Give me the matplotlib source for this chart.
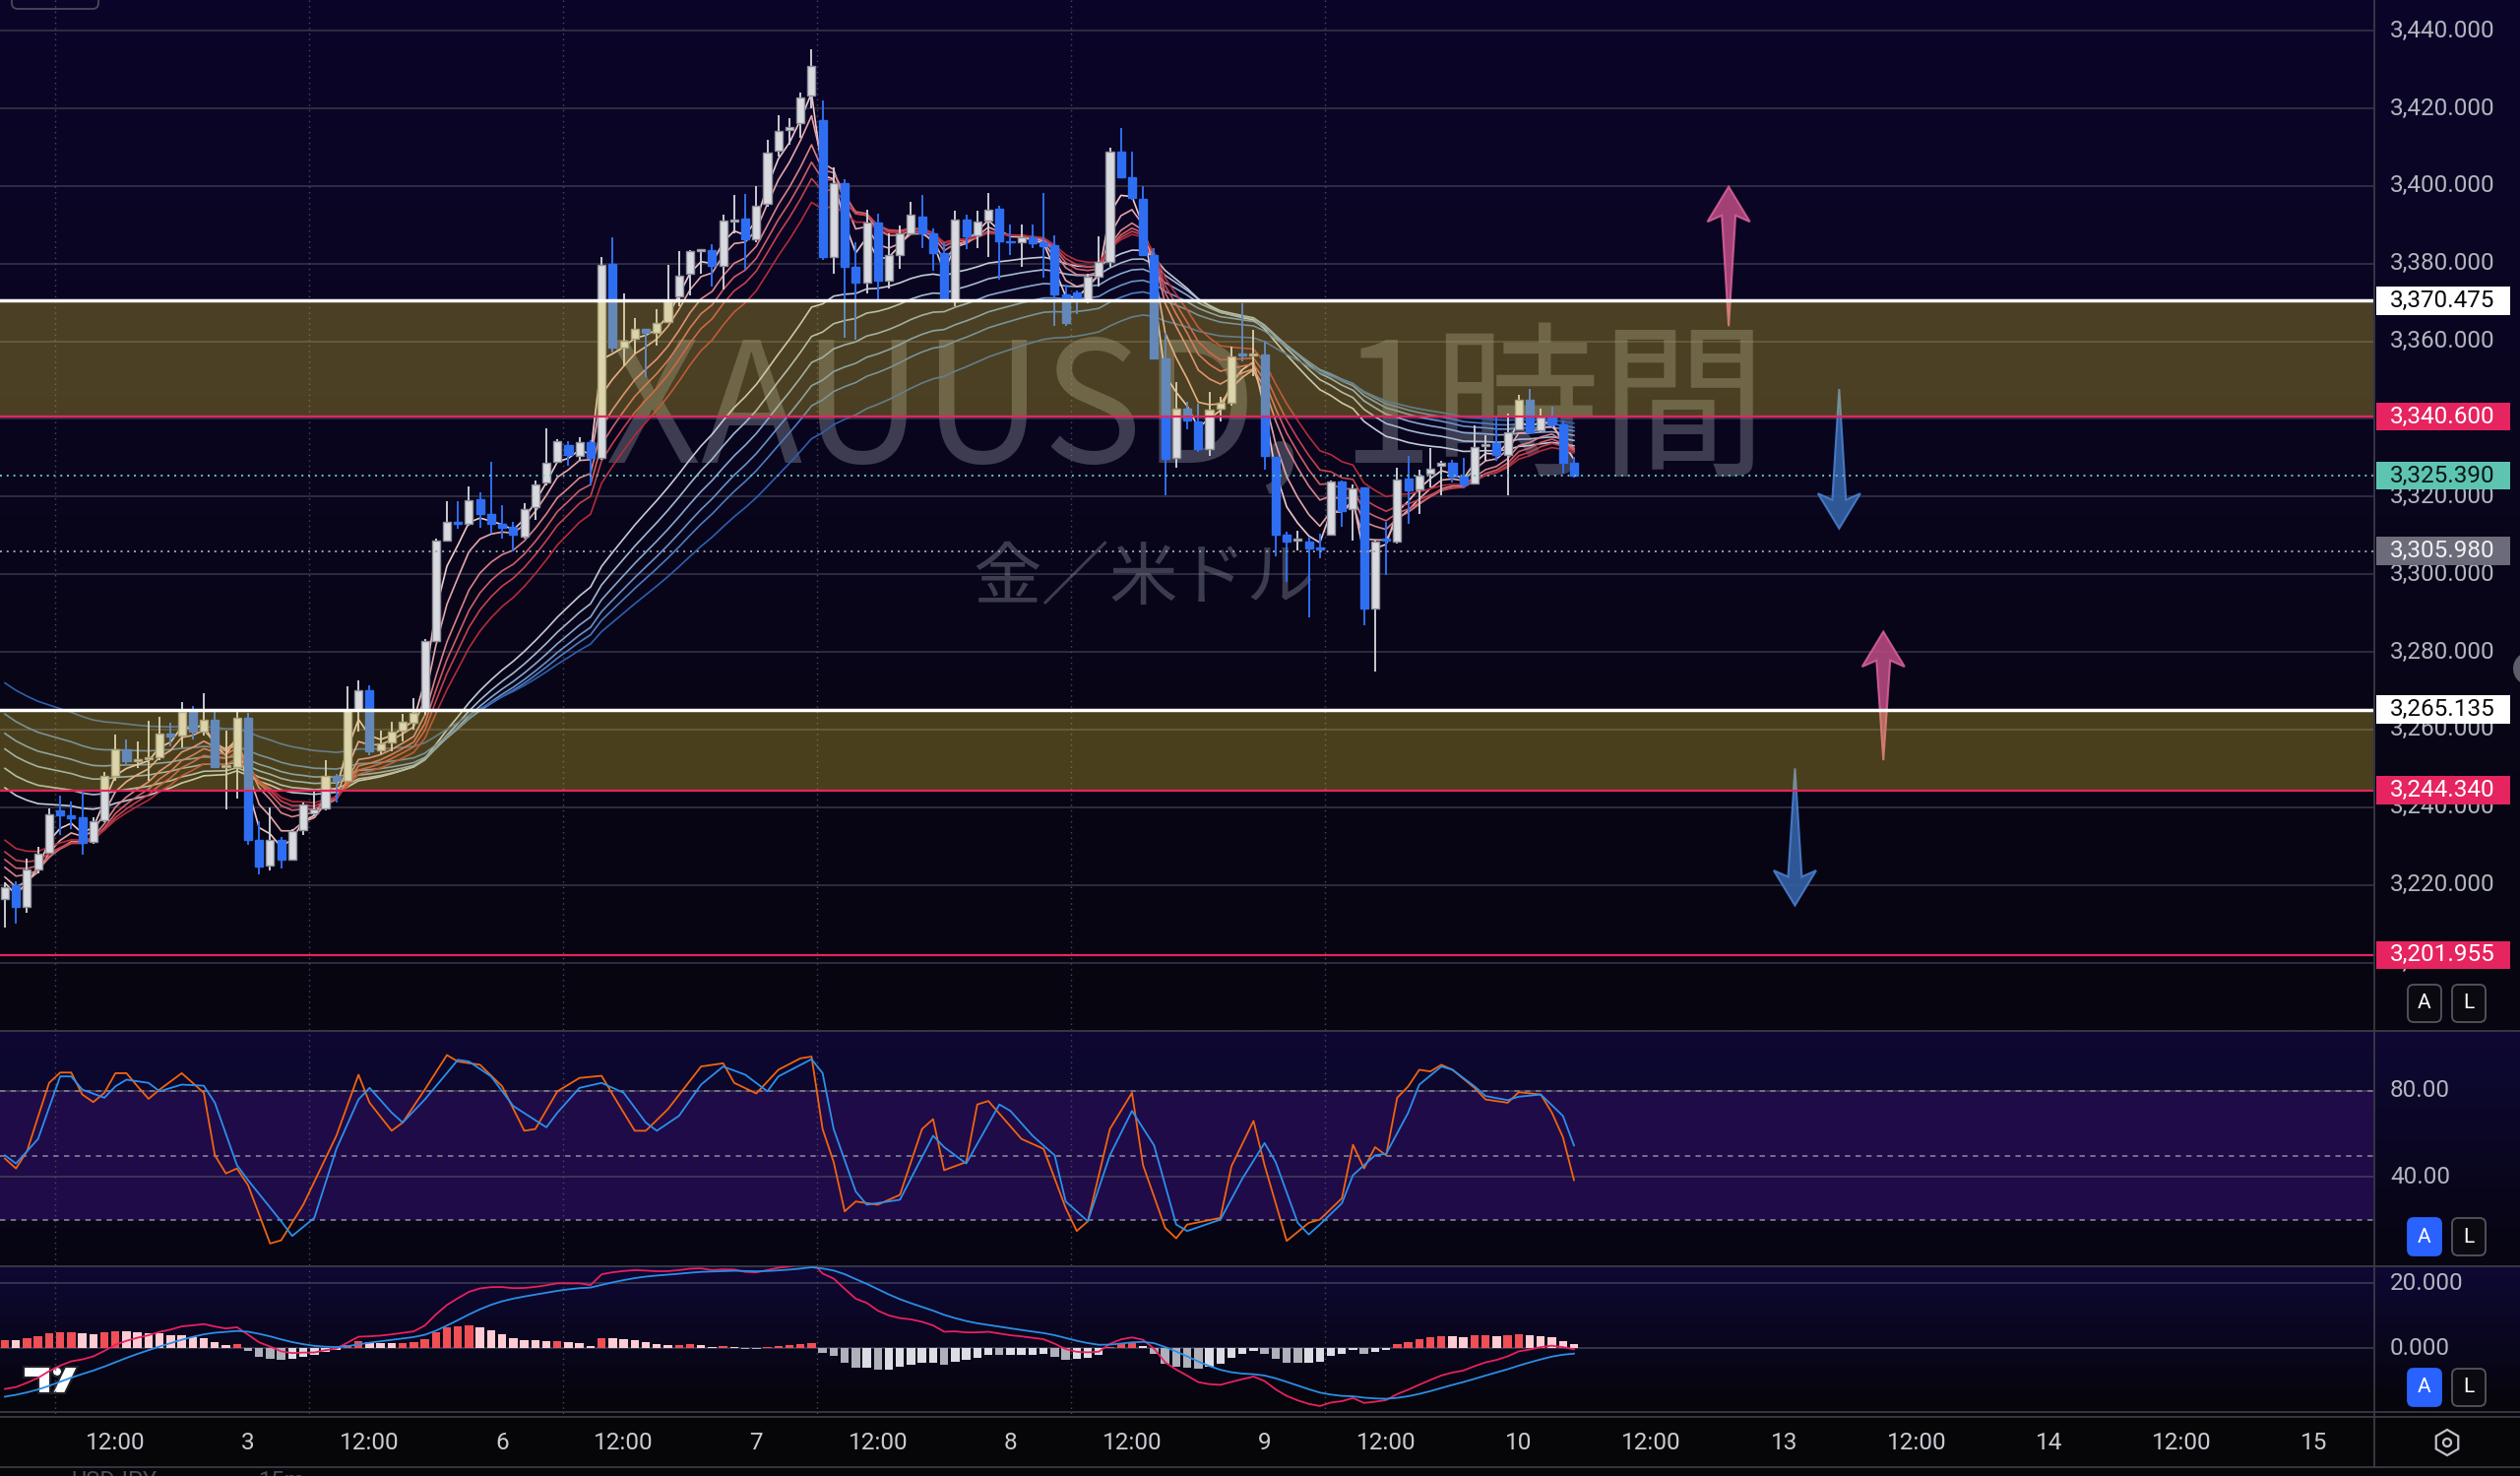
import numpy as np
import matplotlib
matplotlib.use("Agg")
import matplotlib.pyplot as plt
import matplotlib.transforms as mtransforms
from matplotlib.colors import to_rgb
from matplotlib.patches import Rectangle, FancyBboxPatch, Polygon, RegularPolygon, Circle

plt.rcParams["font.family"] = ["Roboto", "Noto Sans CJK JP", "DejaVu Sans"]

W, H = 2560, 1499

# ---------------- data: XAUUSD 1h candles ----------------
OPEN = [3216.3, 3219.8, 3214.4, 3223.9, 3228.3, 3239.3, 3237.8, 3237.4, 3231.1, 3236.6,
        3248.0, 3254.9, 3251.8, 3252.4, 3253.0, 3258.9, 3258.4, 3264.9, 3259.6, 3262.6,
        3250.4, 3250.4, 3262.9, 3231.7, 3224.9, 3231.5, 3226.4, 3234.0, 3238.4, 3239.8,
        3248.0, 3246.7, 3265.0, 3270.2, 3254.7, 3256.7, 3259.8, 3261.8, 3265.2, 3282.8,
        3308.8, 3313.3, 3313.1, 3319.4, 3315.6, 3312.9, 3312.1, 3309.7, 3317.3, 3323.6,
        3329.0, 3333.3, 3330.5, 3334.1, 3329.9, 3380.0, 3358.5, 3360.6, 3363.1, 3362.3,
        3364.9, 3371.5, 3377.5, 3383.3, 3383.5, 3379.5, 3390.9, 3391.7, 3386.3, 3395.5,
        3409.0, 3414.4, 3416.1, 3423.3, 3416.9, 3381.8, 3400.8, 3379.3, 3375.0, 3390.7,
        3375.6, 3382.2, 3387.9, 3392.2, 3387.9, 3382.7, 3370.2, 3391.3, 3387.2, 3391.0,
        3394.2, 3385.9, 3385.4, 3386.8, 3385.4, 3384.7, 3372.0, 3372.7, 3370.2, 3376.6,
        3380.4, 3408.8, 3402.2, 3396.7, 3382.2, 3355.5, 3330.0, 3342.7, 3339.4, 3332.2,
        3342.7, 3344.3, 3356.6, 3356.3, 3356.6, 3330.2, 3310.1, 3308.7, 3308.3, 3306.7,
        3310.1, 3323.8, 3316.7, 3322.4, 3291.1, 3309.0, 3308.3, 3324.7, 3321.8, 3325.8,
        3327.9, 3328.6, 3325.2, 3323.5, 3333.1, 3333.8, 3330.8, 3337.3, 3344.9, 3337.0,
        3340.4, 3338.7, 3328.7]
HIGH = [3220.5, 3220.9, 3226.8, 3229.8, 3239.7, 3243.1, 3241.4, 3244.1, 3237.4, 3249.2,
        3258.7, 3257.5, 3257.0, 3262.3, 3263.2, 3261.8, 3267.2, 3266.0, 3269.4, 3264.6,
        3259.8, 3264.6, 3264.3, 3236.4, 3239.9, 3232.3, 3234.4, 3241.2, 3244.1, 3252.2,
        3248.6, 3271.2, 3272.7, 3271.4, 3259.8, 3261.9, 3264.1, 3268.1, 3283.2, 3309.3,
        3318.9, 3318.9, 3322.7, 3321.1, 3329.0, 3317.9, 3313.5, 3318.2, 3324.2, 3337.5,
        3334.9, 3334.3, 3335.3, 3334.6, 3381.6, 3386.7, 3372.4, 3366.1, 3363.3, 3368.4,
        3379.7, 3383.3, 3383.5, 3383.8, 3385.0, 3392.6, 3397.6, 3398.0, 3399.9, 3411.9,
        3418.2, 3417.6, 3424.1, 3435.3, 3422.1, 3404.9, 3401.7, 3385.4, 3394.0, 3392.8,
        3387.7, 3389.9, 3395.8, 3397.6, 3389.0, 3385.4, 3393.6, 3392.7, 3393.7, 3398.3,
        3394.9, 3390.0, 3390.1, 3390.1, 3398.1, 3387.2, 3374.6, 3373.2, 3377.3, 3387.0,
        3409.9, 3414.9, 3408.8, 3399.9, 3384.1, 3362.1, 3349.4, 3344.5, 3343.9, 3346.9,
        3345.6, 3358.7, 3369.7, 3362.9, 3360.2, 3330.2, 3311.0, 3311.1, 3309.7, 3310.5,
        3324.1, 3324.1, 3323.2, 3322.4, 3308.8, 3313.5, 3327.4, 3330.4, 3327.0, 3332.5,
        3329.1, 3329.4, 3330.0, 3338.4, 3335.9, 3340.4, 3341.4, 3346.3, 3347.7, 3342.7,
        3343.1, 3339.7, 3330.2]
LOW = [3209.1, 3209.9, 3212.9, 3223.0, 3228.1, 3232.8, 3234.4, 3227.7, 3230.6, 3236.2,
       3246.7, 3250.9, 3250.1, 3246.7, 3252.2, 3255.6, 3255.3, 3257.5, 3258.4, 3250.1,
       3239.4, 3242.3, 3230.2, 3222.8, 3223.7, 3224.3, 3226.3, 3232.8, 3237.8, 3239.1,
       3241.2, 3246.5, 3259.5, 3253.3, 3253.6, 3254.3, 3256.9, 3259.9, 3263.7, 3282.6,
       3308.6, 3311.6, 3312.6, 3311.9, 3310.4, 3309.1, 3305.9, 3309.3, 3314.1, 3323.0,
       3328.6, 3328.0, 3329.3, 3323.0, 3329.5, 3357.0, 3353.5, 3356.8, 3350.7, 3358.9,
       3364.6, 3369.0, 3371.9, 3377.5, 3374.0, 3373.4, 3387.9, 3378.5, 3385.4, 3394.6,
       3407.7, 3410.6, 3412.5, 3420.1, 3380.9, 3377.3, 3361.0, 3360.5, 3372.3, 3370.9,
       3373.6, 3378.6, 3387.7, 3384.1, 3378.2, 3370.0, 3369.1, 3383.8, 3384.1, 3381.8,
       3375.9, 3382.2, 3379.1, 3384.1, 3376.4, 3363.9, 3363.9, 3367.1, 3369.9, 3374.1,
       3379.3, 3402.2, 3396.3, 3382.0, 3355.5, 3320.4, 3327.5, 3337.4, 3331.5, 3330.6,
       3339.3, 3343.5, 3354.9, 3351.1, 3327.0, 3304.6, 3297.9, 3306.1, 3288.8, 3304.2,
       3309.9, 3312.2, 3308.8, 3286.9, 3275.0, 3299.8, 3308.0, 3313.1, 3315.4, 3322.4,
       3320.3, 3323.6, 3322.1, 3323.2, 3329.1, 3329.1, 3320.4, 3337.2, 3336.5, 3336.5,
       3337.8, 3325.8, 3324.9]
CLOSE = [3219.5, 3214.4, 3223.9, 3228.1, 3238.2, 3237.8, 3237.2, 3230.8, 3236.4, 3248.0,
         3254.9, 3251.8, 3252.0, 3252.9, 3258.9, 3258.1, 3264.6, 3259.6, 3262.6, 3250.4,
         3250.8, 3262.9, 3231.5, 3224.7, 3231.5, 3226.4, 3233.9, 3240.8, 3239.5, 3248.0,
         3246.9, 3265.1, 3270.2, 3254.3, 3256.4, 3259.6, 3262.1, 3264.3, 3282.8, 3308.8,
         3313.5, 3313.0, 3319.2, 3315.6, 3312.9, 3311.9, 3310.1, 3316.9, 3323.2, 3328.6,
         3334.3, 3330.8, 3334.1, 3329.9, 3379.7, 3358.3, 3360.2, 3363.1, 3362.3, 3364.6,
         3370.3, 3377.0, 3383.3, 3383.5, 3379.5, 3391.1, 3391.3, 3386.3, 3394.9, 3408.7,
         3414.1, 3415.3, 3422.9, 3430.8, 3381.6, 3400.8, 3379.3, 3375.0, 3390.7, 3375.6,
         3382.2, 3387.7, 3392.5, 3387.9, 3382.7, 3370.2, 3391.3, 3387.0, 3390.9, 3394.0,
         3385.9, 3385.4, 3386.8, 3385.2, 3384.5, 3372.0, 3364.6, 3370.9, 3376.6, 3380.4,
         3408.8, 3402.2, 3397.0, 3382.2, 3355.5, 3329.7, 3342.7, 3339.7, 3332.2, 3342.4,
         3344.3, 3356.2, 3356.3, 3356.6, 3330.4, 3310.3, 3308.3, 3309.0, 3306.6, 3306.4,
         3323.8, 3316.2, 3322.1, 3291.1, 3308.3, 3308.7, 3324.5, 3321.5, 3325.3, 3327.2,
         3328.7, 3325.2, 3323.2, 3332.8, 3333.6, 3330.8, 3336.7, 3344.9, 3336.7, 3340.4,
         3338.7, 3328.7, 3325.4]

# GMMA periods and their values at the first visible candle
GMMA_SHORT = [3, 5, 8, 10, 12, 15]
GMMA_SHORT_START = [3220.5, 3222.0, 3224.5, 3226.5, 3228.5, 3231.5]
GMMA_LONG = [30, 35, 40, 45, 50, 60]
GMMA_LONG_START = [3245.0, 3250.0, 3255.0, 3259.0, 3264.0, 3272.0]
SHORT_COLORS = ["#f0c8c8", "#e6a6a8", "#da8288", "#cf5f66", "#c4424c", "#b32c38"]
LONG_COLORS = ["#c3cad6", "#a5b9d2", "#88a7cf", "#6a93c9", "#4d7cc0", "#2f5fae"]

# MACD (12, 26, 9) state at the first visible candle
MACD_FAST_START = 3219.0
MACD_SLOW_START = 3231.5
MACD_SIGNAL_START = -14.9

# Stochastic %K / %D (candle index, value)
STOCH_K_AT = [0, 1, 2, 3, 4, 5, 6, 7, 8, 9, 10, 11, 12, 13, 14, 16, 18, 19, 20, 21, 22, 24, 25, 27,
              30, 32, 33, 35, 36, 38, 40, 41, 43, 45, 47, 48, 50, 52, 54, 55, 57, 58, 60, 63, 65,
              66, 68, 70, 72, 73, 74, 75, 76, 77, 79, 81, 83, 84, 85, 87, 88, 89, 92, 94, 96, 97,
              98, 100, 102, 103, 105, 106, 107, 110, 111, 113, 114, 116, 118, 119, 121, 122, 123,
              124, 125, 126, 127, 128, 129, 130, 131, 133, 134, 136, 137, 139, 140, 141, 142]
STOCH_K = [48.6, 44.0, 52.0, 68.0, 83.7, 88.5, 88.5, 78.3, 74.8, 79.1, 88.2, 88.2, 82.1, 76.3, 80.6,
           88.2, 79.1, 50.1, 41.7, 44.0, 36.3, 9.2, 10.7, 27.2, 59.2, 87.5, 74.5, 61.5, 65.3, 80.6,
           96.6, 93.6, 92.1, 82.1, 61.5, 62.3, 79.8, 86.0, 87.0, 78.3, 61.5, 61.5, 71.5, 91.3, 92.8,
           83.7, 78.8, 89.8, 95.1, 95.9, 62.3, 47.0, 24.1, 28.7, 27.2, 31.8, 62.3, 66.9, 43.2, 47.0,
           73.7, 75.3, 57.7, 53.1, 25.7, 15.0, 19.5, 62.3, 79.1, 45.5, 16.5, 11.6, 18.0, 21.1, 45.0,
           66.1, 45.5, 10.4, 18.8, 20.3, 30.2, 55.0, 44.0, 53.9, 50.1, 76.8, 82.1, 89.8, 89.0, 92.1,
           89.8, 81.4, 76.0, 74.5, 79.4, 78.3, 69.9, 58.5, 38.6]
STOCH_D_AT = [0, 1, 3, 5, 6, 7, 9, 10, 11, 13, 14, 16, 18, 19, 21, 22, 25, 26, 28, 30, 32, 33, 35,
              36, 38, 41, 42, 44, 46, 49, 50, 52, 54, 56, 58, 59, 61, 63, 65, 67, 69, 70, 73, 74,
              75, 77, 78, 81, 84, 85, 87, 90, 91, 93, 95, 96, 98, 100, 102, 104, 106, 107, 110, 112,
              114, 115, 117, 118, 119, 121, 122, 124, 125, 127, 128, 130, 131, 133, 134, 136, 137,
              139, 141, 142]
STOCH_D = [50.1, 46.3, 57.7, 86.7, 86.7, 80.6, 76.8, 82.1, 85.2, 83.7, 79.8, 82.9, 82.4, 74.5, 45.5,
           38.6, 19.5, 12.7, 21.1, 53.1, 76.0, 81.4, 69.9, 65.3, 76.0, 94.4, 93.6, 86.7, 73.0, 63.1,
           69.9, 81.4, 83.7, 79.1, 65.3, 61.5, 68.4, 82.9, 91.3, 87.5, 79.8, 86.7, 94.7, 88.2, 62.3,
           33.3, 27.2, 29.5, 59.2, 53.9, 46.3, 73.7, 70.7, 59.2, 50.1, 28.7, 19.5, 50.1, 70.7, 54.7,
           18.0, 15.0, 20.3, 39.4, 55.8, 47.0, 18.8, 13.4, 18.0, 27.9, 40.9, 50.1, 50.8, 69.9, 82.9,
           91.3, 89.8, 82.1, 77.6, 75.7, 77.3, 78.3, 68.4, 54.7]

# horizontal levels
ZONES = [(3340.6, 3370.475), (3244.34, 3265.135)]
WHITE_LEVELS = [3370.475, 3265.135]
RED_LEVELS = [3340.6, 3244.34, 3201.955]
LAST_PRICE = 3325.39
PREV_CLOSE = 3305.98
PRICE_TICKS = [3200, 3220, 3240, 3260, 3280, 3300, 3320, 3340, 3360, 3380, 3400, 3420, 3440]

# scenario arrows: candle index, tail price, tip price
ARROW_AT = [156, 166, 170, 162]
ARROW_FROM = [3363.9, 3347.7, 3252.1, 3250.0]
ARROW_TO = [3399.8, 3311.8, 3285.2, 3214.7]

TIME_AT = [10, 22, 33, 45, 56, 68, 79, 91, 102, 114, 125, 137, 149, 161, 173, 185, 197, 209]
TIME_LABELS = ["12:00", "3", "12:00", "6", "12:00", "7", "12:00", "8", "12:00", "9",
               "12:00", "10", "12:00", "13", "12:00", "14", "12:00", "15"]
GRID_AT = [4.5, 27.5, 50.5, 73.5, 96.5, 119.5]

# ---------------- layout (pixels of the 2560x1499 canvas) ----------------
X_PLOT = 2411
X0, DX = 5.0, 11.225
XMIN, XMAX = (0 - X0) / DX, (X_PLOT - X0) / DX
MAIN_Y, STOCH_Y, MACD_Y = (0, 1046), (1047, 1285), (1286, 1436)
GRIDC = "#2e2d40"
AXTXT = "#b2b5be"
FS = 17.5

fig = plt.figure(figsize=(W / 100, H / 100), dpi=100)
fig.patch.set_facecolor("#060608")

bg = fig.add_axes([0, 0, 1, 1])
bg.set_axis_off()


def vgrad(y0, y1, c0, c1, x0=0, x1=W, z=0):
    g = np.linspace(0, 1, 256)[:, None, None]
    img = np.array(to_rgb(c0))[None, None, :] * (1 - g) + np.array(to_rgb(c1))[None, None, :] * g
    img = np.repeat(img, 2, axis=1)
    bg.imshow(img, extent=(x0, x1, y1, y0), aspect="auto", interpolation="bilinear", zorder=z)


vgrad(0, 1046, "#0b0529", "#07060f")
vgrad(1046, 1286, "#0e0834", "#060510")
vgrad(1286, 1436, "#0e0834", "#050509")
bg.add_patch(Rectangle((0, 1436), W, 70, color="#060608", zorder=1))
bg.set_xlim(0, W)
bg.set_ylim(H, 0)

# pane separators
for y in (1046.5, 1285.5, 1433.5, 1438.5, 1490):
    bg.plot([0, W], [y, y], color="#3a3a48", lw=1.3, zorder=2)
bg.plot([X_PLOT + 0.5, X_PLOT + 0.5], [0, 1490], color="#3a3a48", lw=1.3, zorder=2)


def pane(yr, ylim):
    ax = fig.add_axes([0, 1 - yr[1] / H, X_PLOT / W, (yr[1] - yr[0]) / H])
    ax.set_axis_off()
    ax.set_xlim(XMIN, XMAX)
    ax.set_ylim(*ylim)
    for g in GRID_AT:
        ax.axvline(g, color="#4a4a5c", lw=1.0, ls=(0, (1, 3)), zorder=0.6)
    return ax


def ema(values, n, start):
    a = 2.0 / (n + 1)
    out = [start]
    for v in values[1:]:
        out.append(out[-1] + a * (v - out[-1]))
    return np.array(out)


idx = np.arange(len(CLOSE))
o, h, l, c = map(np.array, (OPEN, HIGH, LOW, CLOSE))

# ---------------- main price pane ----------------
ax = pane(MAIN_Y, (3182.63, 3447.91))
for p in PRICE_TICKS:
    ax.axhline(p, color=GRIDC, lw=1.4, zorder=0.5)

ax.text(1205 / W, 1 - 470 / H, "XAUUSD, 1時間", transform=fig.transFigure, ha="center",
        va="baseline", fontsize=122, color="#7d8090", alpha=0.45, zorder=1,
        family=["Noto Sans CJK JP", "DejaVu Sans"])
ax.text(1162 / W, 1 - 588 / H, "金／米ドル", transform=fig.transFigure, ha="center",
        va="center", fontsize=50, color="#7d8090", alpha=0.45, zorder=1,
        family=["Noto Sans CJK JP", "DejaVu Sans"])

for n, s, col in zip(GMMA_LONG, GMMA_LONG_START, LONG_COLORS):
    ax.plot(idx, ema(c, n, s), color=col, lw=1.2, zorder=2)
for n, s, col in zip(GMMA_SHORT, GMMA_SHORT_START, SHORT_COLORS):
    ax.plot(idx, ema(c, n, s), color=col, lw=1.2, zorder=2.1)

up = c >= o
UPF, UPE, DNC = "#d9dae0", "#8c8e98", "#2e6ef2"
ax.vlines(idx, l, h, colors=np.where(up, "#c8cad2", DNC), lw=1.4, zorder=3)
body_lo = np.minimum(o, c)
body_h = np.maximum(np.abs(c - o), 0.5)
ax.bar(idx, body_h, bottom=body_lo, width=0.72, color=np.where(up, UPF, DNC),
       edgecolor=np.where(up, UPE, DNC), lw=1.0, zorder=3.2)

for i, a, b in zip(ARROW_AT, ARROW_FROM, ARROW_TO):
    d = 1 if b > a else -1
    hl, hw, sw = 9.0, 1.92, 0.62
    pts = [(i, b), (i + hw, b - d * hl), (i + sw, b - d * hl * 0.82), (i, a),
           (i - sw, b - d * hl * 0.82), (i - hw, b - d * hl)]
    fc, ec = ("#b84a82", "#d9609a") if d > 0 else ("#3563a8", "#4a80d0")
    ax.add_patch(Polygon(pts, closed=True, facecolor=fc, edgecolor=ec, lw=1.5,
                         alpha=0.88, zorder=4))

for lo, hi in ZONES:
    ax.axhspan(lo, hi, facecolor="#e4c730", alpha=0.30, lw=0, zorder=5)
for p in WHITE_LEVELS:
    ax.axhline(p, color="white", lw=2.5, zorder=6)
for p in RED_LEVELS:
    ax.axhline(p, color="#e6245f", lw=1.6, zorder=6)
ax.axhline(LAST_PRICE, color="#5ec8bb", lw=1.4, ls=(0, (1, 2.5)), zorder=6)
ax.axhline(PREV_CLOSE, color="#a0a0b0", lw=1.4, ls=(0, (1, 2.5)), zorder=6)

# right price scale
trm = mtransforms.blended_transform_factory(fig.transFigure, ax.transData)
for p in PRICE_TICKS:
    fig.text(2428 / W, p, f"{p:,.3f}", transform=trm, ha="left", va="center",
             fontsize=FS, color=AXTXT)
labels = [(p, "white", "#0a0a0a") for p in WHITE_LEVELS] + \
         [(p, "#e6245f", "white") for p in RED_LEVELS] + \
         [(LAST_PRICE, "#5ec4b2", "#0b1714"), (PREV_CLOSE, "#6b6b7a", "#f0f0f4")]
for p, fc, tc in labels:
    fig.add_artist(Rectangle((2414 / W, p - 3.6), 136 / W, 7.2, transform=trm,
                             facecolor=fc, edgecolor="none", zorder=5))
    fig.text(2428 / W, p, f"{p:,.3f}", transform=trm, ha="left", va="center",
             fontsize=FS, color=tc, zorder=6)

# ---------------- stochastic pane ----------------
axs = pane(STOCH_Y, (-0.9, 107.8))
axs.axhspan(20, 80, facecolor="#1f0b48", lw=0, zorder=0.2)
for v in (40, 80):
    axs.axhline(v, color="#3d3456", lw=1.4, zorder=0.5)
for v in (80, 50, 20):
    axs.axhline(v, color="#7c7a8c", lw=1.3, ls=(0, (3, 3)), zorder=0.7)
axs.plot(STOCH_K_AT, STOCH_K, color="#f0640f", lw=1.3, zorder=3)
axs.plot(STOCH_D_AT, STOCH_D, color="#2a90ec", lw=1.3, zorder=3.1)
trs = mtransforms.blended_transform_factory(fig.transFigure, axs.transData)
for v in (80, 40):
    fig.text(2428 / W, v, f"{v:.2f}", transform=trs, ha="left", va="center",
             fontsize=FS, color=AXTXT)

# ---------------- MACD pane ----------------
axm = pane(MACD_Y, (-20.2, 25.2))
for v in (0, 20):
    axm.axhline(v, color="#34334a", lw=1.4, zorder=0.5)
macd = ema(c, 12, MACD_FAST_START) - ema(c, 26, MACD_SLOW_START)
sig = ema(macd, 9, MACD_SIGNAL_START)
hist = macd - sig
prev = np.concatenate([[hist[0]], hist[:-1]])
hcol = np.where(hist >= 0, np.where(hist >= prev, "#ef4f55", "#ffccd3"),
                np.where(hist < prev, "#aeb0ba", "#dcdde4"))
axm.bar(idx, hist, width=0.75, color=hcol, zorder=2)
axm.plot(idx, macd, color="#e8205e", lw=1.3, zorder=3)
axm.plot(idx, sig, color="#2a8ee6", lw=1.3, zorder=3.1)
trmc = mtransforms.blended_transform_factory(fig.transFigure, axm.transData)
for v in (20, 0):
    fig.text(2428 / W, v, f"{v:.3f}", transform=trmc, ha="left", va="center",
             fontsize=FS, color=AXTXT)

# ---------------- time axis ----------------
trt = mtransforms.blended_transform_factory(ax.transData, fig.transFigure)
for t, s in zip(TIME_AT, TIME_LABELS):
    fig.text(t, 1 - 1465 / H, s, transform=trt, ha="center", va="center",
             fontsize=FS, color="#c9ccd4")

# ---------------- chrome ----------------
def button(x, y, label, active):
    bg.add_patch(FancyBboxPatch((x, y), 34, 38, boxstyle="round,pad=0,rounding_size=6",
                                facecolor="#2962ff" if active else "#0a0a10",
                                edgecolor="#2962ff" if active else "#55555f", lw=1.3, zorder=5))
    bg.text(x + 17, y + 19, label, ha="center", va="center", fontsize=15, color="white", zorder=6)


button(2446, 1000, "A", False)
button(2491, 1000, "L", False)
button(2446, 1237, "A", True)
button(2491, 1237, "L", False)
button(2446, 1390, "A", True)
button(2491, 1390, "L", False)

bg.add_patch(RegularPolygon((2486, 1465), 6, radius=13, orientation=0, facecolor="none",
                            edgecolor="#c0c2ca", lw=1.6, zorder=5))
bg.add_patch(Circle((2486, 1465), 4, facecolor="none", edgecolor="#c0c2ca", lw=1.6, zorder=5))
bg.add_patch(Circle((2570, 679), 17, facecolor="#5d5d6a", edgecolor="none", zorder=5))
bg.add_patch(FancyBboxPatch((12, -30), 88, 39, boxstyle="round,pad=0,rounding_size=6",
                            facecolor="none", edgecolor="#4a4a58", lw=1.3, zorder=5))

# TradingView logo
logo = dict(facecolor="white", edgecolor="#202028", lw=1.5, zorder=7)
bg.add_patch(Polygon([(24, 1388), (51, 1388), (51, 1415), (39, 1415), (39, 1399), (24, 1399)], **logo))
bg.add_patch(Circle((58, 1393), 5, **logo))
bg.add_patch(Polygon([(66, 1388), (79, 1388), (66, 1415), (53, 1415)], **logo))

# header of the chart below, cut off by the screenshot edge
fig.text(72 / W, 1 - 1493 / H, "USDJPY", ha="left", va="top", fontsize=17, color="#4f4f5c")
fig.text(262 / W, 1 - 1493 / H, "15m", ha="left", va="top", fontsize=17, color="#4f4f5c")

fig.savefig("out.png", dpi=100, facecolor=fig.get_facecolor())
